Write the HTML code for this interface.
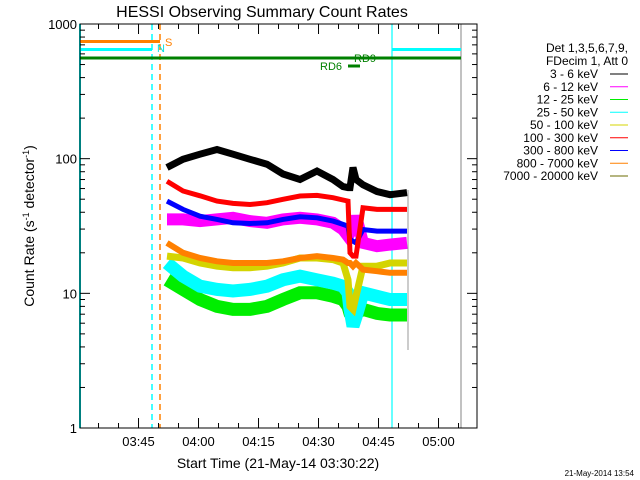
<!DOCTYPE html>
<html><head><meta charset="utf-8"><style>
body{margin:0;background:#fff}
svg{display:block;font-family:"Liberation Sans",sans-serif}
</style></head><body>
<svg id="c" width="640" height="480" viewBox="0 0 640 480">
<rect width="640" height="480" fill="#fff"/>
<text x="262" y="17" font-size="16" text-anchor="middle">HESSI Observing Summary Count Rates</text>
<g id="plot"></g>
<text x="165" y="46" font-size="11" fill="#ff8000">S</text>
<text x="157" y="52" font-size="11" fill="#00e0e0">N</text>
<text x="320" y="70" font-size="11" fill="#008000">RD6</text>
<text x="354" y="62" font-size="11" fill="#008000">RD9</text>
<text x="278" y="468" font-size="14" text-anchor="middle">Start Time (21-May-14 03:30:22)</text>
<text transform="translate(34,226) rotate(-90)" font-size="14" text-anchor="middle">Count Rate (s<tspan font-size="9" dy="-5">-1</tspan><tspan dy="5"> detector</tspan><tspan font-size="9" dy="-5">-1</tspan><tspan dy="5">)</tspan></text>
<g font-size="12" text-anchor="end">
<text x="628" y="52">Det 1,3,5,6,7,9,</text>
<text x="628" y="65">FDecim 1, Att 0</text>
</g>
<g id="legend"></g>
<text x="634" y="476" font-size="8" text-anchor="end">21-May-2014 13:54</text>
</svg>
<script>
const times=[21.75,25.75,30,34.25,38.25,42.5,46.75,50.75,55,59.25,63.25,65.75,67,67.5,68.25,69,70.75,74.25,77.5,81.75];
const s3_6=[86,99,108,117,108,99,91,77,70,81,70,62,61,61,86,70,64,57,54,56];
const s6_12=[35.4,35.4,34.4,35.4,36.4,34.4,33.4,35.4,36.4,35.4,33.4,29.8,26.6,28.2,29.8,37.4,23.7,22.4,23,23.7];
const s300_800=[48.4,42,37.4,35.4,33.4,33,33.4,35.4,37,36.4,34.4,32.5,31.5,25.1,24.4,23.7,29.8,29,29,29];
const s25_50=[16.8,13.4,11.3,10.7,10.4,10.7,11.3,12.6,13.4,12.6,11.9,11.3,10.1,7.6,5.7,6.7,10.1,9.5,9,9];
const s12_25=[12.6,10.7,9,8,7.6,7.6,8,9,10.1,10.1,9.5,9,8,7.1,6.7,7.1,7.6,7.1,6.9,6.9];
const s100_300=[68,57.5,53,48.4,46.5,45.7,47.1,49.9,52.8,53.4,51.3,49.3,48.4,20,18.9,18.9,43.2,42,42,42];
const s50_100=[18.9,18.3,16.8,15.9,15.5,15.5,15.9,16.8,18.3,18.3,17.8,16.8,12.6,8,7.6,9.5,15.9,15.9,16.8,16.8];
const s800_7000=[23.7,20,18.3,17.3,16.8,16.8,16.8,17.3,18.3,18.9,18.3,17.8,16.8,16.8,15.9,16.8,15,14.6,14.2,14.2];
const yTicks=[1,10,100,1000];
const xTickLabels=["03:45","04:00","04:15","04:30","04:45","05:00"];
const xTickMins=[14.63,29.63,44.63,59.63,74.63,89.63];
const legendLabels=["3 - 6 keV","6 - 12 keV","12 - 25 keV","25 - 50 keV","50 - 100 keV","100 - 300 keV","300 - 800 keV","800 - 7000 keV","7000 - 20000 keV"];
const legendColors=["#000","#ff00ff","#00ee00","#00ffff","#d4d400","#ff0000","#0000ff","#ff8000","#6b6b00"];

const L=80,R=477,T=24,B=428;
const X=t=>L+4*t;
const Y=v=>B-(B-T)*Math.log10(v)/3;
const NS="http://www.w3.org/2000/svg";
const plot=document.getElementById('plot');
function mk(tag,at,parent){const e=document.createElementNS(NS,tag);for(const k in at)e.setAttribute(k,at[k]);(parent||plot).appendChild(e);return e;}

let e;
e=mk('line',{x1:X(0),x2:X(0),y1:T,y2:B,stroke:'#00ffff','stroke-width':2});

e=mk('line',{x1:152,x2:152,y1:T,y2:B,stroke:'#00ffff','stroke-width':1.5,'stroke-dasharray':'6,4'});

e=mk('line',{x1:160,x2:160,y1:T,y2:B,stroke:'#ff8000','stroke-width':1.5,'stroke-dasharray':'6,4'});

e=mk('line',{x1:392,x2:392,y1:T,y2:B,stroke:'#00ffff','stroke-width':1.2});

e=mk('line',{x1:461,x2:461,y1:T,y2:B,stroke:'#999','stroke-width':1.2});

e=mk('line',{x1:408,x2:408,y1:190,y2:350,stroke:'#999','stroke-width':1});

e=mk('line',{x1:80,x2:160,y1:41.5,y2:41.5,stroke:'#ff8000','stroke-width':3});

e=mk('line',{x1:80,x2:152,y1:49.5,y2:49.5,stroke:'#00ffff','stroke-width':3});

e=mk('line',{x1:392,x2:461,y1:49.5,y2:49.5,stroke:'#00ffff','stroke-width':3});

e=mk('line',{x1:80,x2:461,y1:58,y2:58,stroke:'#008000','stroke-width':3});

e=mk('line',{x1:348,x2:360,y1:66,y2:66,stroke:'#008000','stroke-width':3});


const series=[
 ['series-12-25-kev',s12_25,'#00ee00',13],
 ['series-25-50-kev',s25_50,'#00ffff',13],
 ['series-50-100-kev',s50_100,'#d4d400',7],
 ['series-800-7000-kev',s800_7000,'#ff8000',6],
 ['series-6-12-kev',s6_12,'#ff00ff',12],
 ['series-300-800-kev',s300_800,'#0000ff',5],
 ['series-100-300-kev',s100_300,'#ff0000',5],
 ['series-3-6-kev',s3_6,'#000000',7]
];
series.forEach(s=>{
 const pts=times.map((t,i)=>X(t).toFixed(1)+','+Y(s[1][i]).toFixed(1)).join(' ');
 const p=mk('polyline',{points:pts,fill:'none',stroke:s[2],'stroke-width':s[3],'stroke-linejoin':'miter'});
 
 
});

e=mk('rect',{x:L,y:T,width:R-L,height:B-T,fill:'none',stroke:'#000','stroke-width':1});

yTicks.forEach(v=>{
 const y=Y(v);
 mk('line',{x1:L,x2:L+10,y1:y,y2:y,stroke:'#000'});
 mk('line',{x1:R,x2:R-10,y1:y,y2:y,stroke:'#000'});
 const t=mk('text',{x:L-3,y:y+5,'font-size':13,'text-anchor':'end'});t.textContent=v;
 
 
 if(v<1000)for(let m=2;m<10;m++){const yy=Y(v*m);mk('line',{x1:L,x2:L+5,y1:yy,y2:yy,stroke:'#000'});mk('line',{x1:R,x2:R-5,y1:yy,y2:yy,stroke:'#000'});}
});
for(let m=4.63;m<99;m+=5){const x=X(m);const maj=Math.abs(((m-14.63)/15)-Math.round((m-14.63)/15))<0.01;const h=maj?10:5;
 mk('line',{x1:x,x2:x,y1:B,y2:B-h,stroke:'#000'});mk('line',{x1:x,x2:x,y1:T,y2:T+h,stroke:'#000'});}
xTickLabels.forEach((l,i)=>{const t=mk('text',{x:X(xTickMins[i]),y:446,'font-size':13,'text-anchor':'middle'});t.textContent=l;
 
 });
const lg=document.getElementById('legend');
legendLabels.forEach((l,i)=>{const y=74+i*12.75;
 const t=mk('text',{x:598,y:y+4,'font-size':12,'text-anchor':'end'},lg);t.textContent=l;
 
 
 mk('line',{x1:610,x2:628,y1:y,y2:y,stroke:legendColors[i]},lg);});
</script>
</body></html>
